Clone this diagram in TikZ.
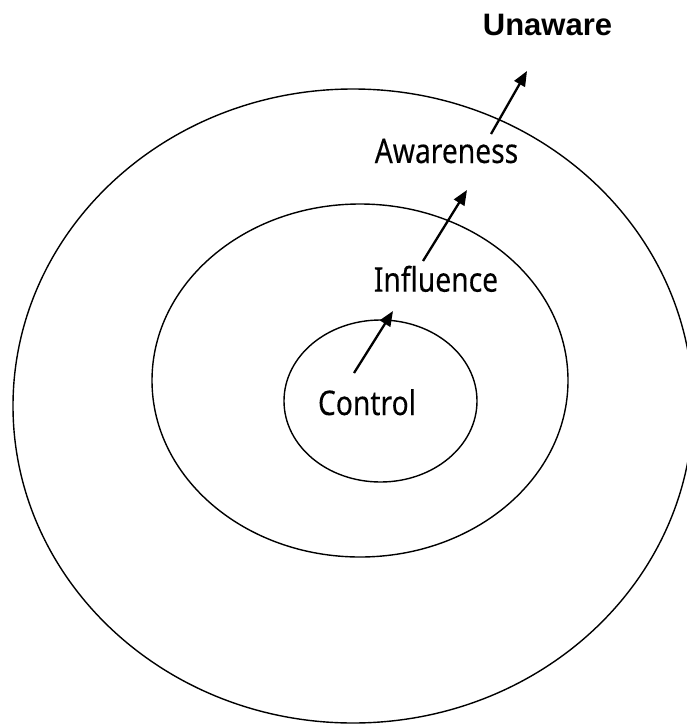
\documentclass[tikz,border=0pt]{standalone}
\usepackage{fontspec}
\usetikzlibrary{arrows.meta}
\newfontfamily\labelfont[FakeStretch=0.83,FakeBold=0.15]{Noto Sans}
\newfontfamily\headfont{Liberation Sans}

\begin{document}
\begin{tikzpicture}[x=1pt,y=-1pt,
  ring/.style={draw=black,line width=1.4pt},
  zonelabel/.style={inner sep=0pt,anchor=base,font=\labelfont\fontsize{34}{40}\selectfont},
  outlabel/.style={inner sep=0pt,anchor=base,font=\headfont\bfseries\fontsize{31}{36}\selectfont},
  push/.style={line width=2.3pt,-{Triangle[length=15pt,width=12pt]}}]
  \useasboundingbox (0,0) rectangle (687,725);
  \clip (0,0) rectangle (687,725);

  % three nested circles of reach
  \draw[ring] (353,406) ellipse [x radius=340pt, y radius=317pt];
  \draw[ring] (360,380.5) ellipse [x radius=208pt, y radius=176.5pt];
  \draw[ring] (380.5,401) ellipse [x radius=96.5pt, y radius=81pt];

  % labels
  \node[outlabel]  (unaware)   at (547.5,36)  {Unaware};
  \node[zonelabel] (awareness) at (446.5,163) {Awareness};
  \node[zonelabel] (influence) at (436,291.7) {Influence};
  \node[zonelabel] (control)   at (367,415)   {Control};

  % arrow ends
  \coordinate (c0) at (354,373);
  \coordinate (c1) at (393,311);
  \coordinate (i0) at (423,261);
  \coordinate (i1) at (467,190);
  \coordinate (a0) at (491,134);
  \coordinate (a1) at (527,71);

  \draw[push] (c0) -- (c1);
  \draw[push] (i0) -- (i1);
  \draw[push] (a0) -- (a1);
\end{tikzpicture}
\end{document}
